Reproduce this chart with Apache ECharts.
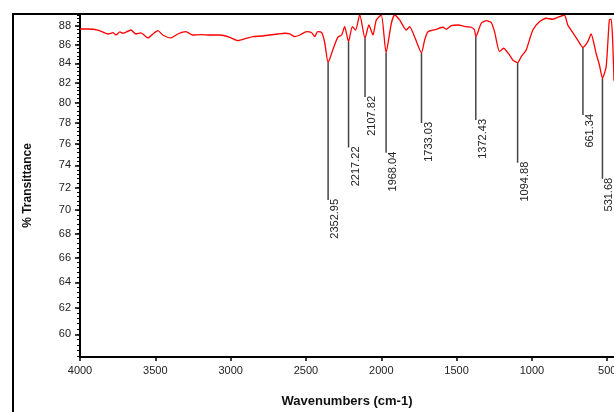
<!DOCTYPE html>
<html lang="en">

<head>
  <meta charset="UTF-8">
  <title>IR spectrum</title>
  <script src="https://cdn.jsdelivr.net/npm/echarts@6/dist/echarts.min.js"></script>
  <style>
    html, body { margin: 0; padding: 0; background: #fff; overflow: hidden; }
  </style>
</head>

<body>
  <div id="main" style="width: 614px;height:412px;"></div>

  <script>
    // spectrum
    var wavenumbers = [4000, 3947, 3881, 3814, 3781, 3761, 3735, 3715, 3662, 3629, 3596, 3549, 3516, 3483, 3450,
      3397, 3350, 3297, 3251, 3198, 3138, 3072, 3005, 2952, 2893, 2853, 2793, 2740, 2687, 2641, 2607, 2574, 2541,
      2495, 2462, 2442, 2422, 2395, 2375, 2352.95, 2322, 2289, 2263, 2243, 2217.22, 2192, 2170, 2143, 2107.82, 2082,
      2055, 2033, 2000, 1968.04, 1933, 1911, 1878, 1834, 1812, 1779, 1733.03, 1712, 1690, 1635, 1591, 1568, 1535,
      1491, 1436, 1403, 1381, 1372.43, 1336, 1303, 1270, 1248, 1215, 1188, 1149, 1127, 1094.88, 1071, 1038, 994,
      950, 905, 862, 817, 784, 762, 740, 696, 661.34, 629, 607, 574, 552, 531.68, 507, 486, 474, 464, 455];
    var transmittance = [87.67, 87.67, 87.56, 87.13, 87.27, 87.02, 87.35, 87.21, 87.56, 87.13, 87.24, 86.70, 87.13,
      87.49, 87.02, 86.70, 87.13, 87.38, 87.02, 87.06, 87.02, 87.02, 86.77, 86.41, 86.67, 86.84, 86.91, 87.02, 87.13,
      87.21, 87.13, 86.84, 87.02, 87.38, 87.27, 86.84, 87.38, 87.27, 86.16, 84.08, 85.42, 86.77, 87.02, 87.92, 86.30,
      87.92, 87.56, 89.24, 86.67, 88.11, 87.02, 88.66, 89.21, 85.13, 88.30, 89.21, 88.66, 87.56, 87.92, 86.84, 85.13,
      86.48, 87.38, 87.64, 87.86, 87.64, 88.03, 88.11, 87.92, 87.86, 87.56, 86.84, 88.30, 88.58, 88.36, 87.38, 85.24,
      85.60, 84.89, 84.36, 84.08, 84.71, 85.42, 87.56, 88.47, 88.85, 88.74, 89.02, 89.21, 88.11, 87.56, 86.48, 85.70,
      86.30, 87.13, 85.07, 83.84, 82.47, 83.66, 88.66, 88.74, 86.48, 82.2];

    // labelled peaks: position, %T at the dip, %T where the marker line stops
    var peakWavenumbers = [2352.95, 2217.22, 2107.82, 1968.04, 1733.03, 1372.43, 1094.88, 661.34, 531.68];
    var peakT = [84.08, 86.30, 86.67, 85.13, 85.13, 86.84, 84.08, 85.70, 82.47];
    var markerEndT = [70.90, 75.67, 80.57, 75.18, 78.01, 78.30, 74.25, 78.79, 72.78];

    var xTicks = [4000, 3500, 3000, 2500, 2000, 1500, 1000, 500];
    var yTicks = [60, 62, 64, 66, 68, 70, 72, 74, 76, 78, 80, 82, 84, 86, 88];
    var yMinorTicks = [];
    for (var v = 58.4; v < 89.3; v += 0.4) {
      yMinorTicks.push(Math.round(v * 10) / 10);
    }

    var spectrum = [];
    for (var i = 0; i < wavenumbers.length; i++) {
      spectrum.push([wavenumbers[i], transmittance[i]]);
    }
    var peaks = [];
    for (var j = 0; j < peakWavenumbers.length; j++) {
      peaks.push([peakWavenumbers[j], peakT[j], markerEndT[j]]);
    }

    var font = '"Liberation Sans", Arial, sans-serif';
    var myChart = echarts.init(document.getElementById('main'));

    var gridLeft = 80;
    var gridWidth = 614 - gridLeft;

    var option = {
      backgroundColor: '#fff',
      animation: false,
      grid: {
        left: gridLeft,
        top: 14,
        right: 0,
        bottom: 55,
        outerBoundsMode: 'none'
      },
      xAxis: {
        type: 'value',
        inverse: true,
        min: 455,
        max: 4000,
        name: 'Wavenumbers (cm-1)',
        nameLocation: 'middle',
        nameGap: 38,
        nameTextStyle: {
          fontFamily: font,
          fontWeight: 'bold',
          fontSize: 13,
          color: '#111'
        },
        axisLine: {
          lineStyle: { color: '#000', width: 2 }
        },
        axisTick: {
          customValues: xTicks,
          length: 4,
          lineStyle: { color: '#000', width: 1.5 }
        },
        axisLabel: {
          customValues: xTicks,
          formatter: function (val) { return String(val); },
          fontFamily: font,
          fontSize: 11,
          color: '#222',
          margin: 8
        },
        splitLine: { show: false }
      },
      yAxis: [{
        type: 'log',
        logBase: 10,
        min: 58.33,
        max: 89.32,
        position: 'left',
        name: '% Transittance',
        nameLocation: 'middle',
        nameGap: 46,
        nameTextStyle: {
          fontFamily: font,
          fontWeight: 'bold',
          fontSize: 12,
          color: '#111'
        },
        axisLine: {
          show: true,
          lineStyle: { color: '#000', width: 2 }
        },
        axisTick: {
          show: true,
          customValues: yTicks,
          length: 5,
          lineStyle: { color: '#000', width: 1.5 }
        },
        axisLabel: {
          customValues: yTicks,
          fontFamily: font,
          fontSize: 11,
          color: '#222',
          margin: 9
        },
        splitLine: { show: false }
      }, {
        // minor ticks only, pulled back onto the left edge
        type: 'log',
        logBase: 10,
        min: 58.33,
        max: 89.32,
        position: 'right',
        offset: -gridWidth,
        axisLine: { show: false },
        axisTick: {
          show: true,
          inside: true,
          customValues: yMinorTicks,
          length: 3,
          lineStyle: { color: '#000', width: 1 }
        },
        axisLabel: { show: false },
        splitLine: { show: false }
      }],
      graphic: [{
        type: 'polyline',
        shape: { points: [[13, 412], [13, 14], [614, 14]] },
        style: { stroke: '#000', lineWidth: 2, fill: null },
        z: 100
      }],
      series: [{
        name: 'spectrum',
        type: 'line',
        data: spectrum,
        showSymbol: false,
        smooth: 0.2,
        lineStyle: { color: '#ff0000', width: 1.3 },
        z: 3
      }, {
        name: 'peaks',
        type: 'custom',
        data: peaks,
        z: 2,
        renderItem: function (params, api) {
          var top = api.coord([api.value(0), api.value(1)]);
          var bot = api.coord([api.value(0), api.value(2)]);
          return {
            type: 'group',
            children: [{
              type: 'line',
              shape: { x1: top[0], y1: top[1], x2: bot[0], y2: bot[1] },
              style: { stroke: '#444', lineWidth: 1.5 }
            }, {
              type: 'text',
              x: bot[0] + 7,
              y: bot[1] - 1,
              rotation: Math.PI / 2,
              style: {
                text: api.value(0).toFixed(2),
                align: 'right',
                verticalAlign: 'middle',
                font: '11px ' + font,
                fill: '#222'
              }
            }]
          };
        }
      }]
    };

    myChart.setOption(option);
  </script>
</body>

</html>
